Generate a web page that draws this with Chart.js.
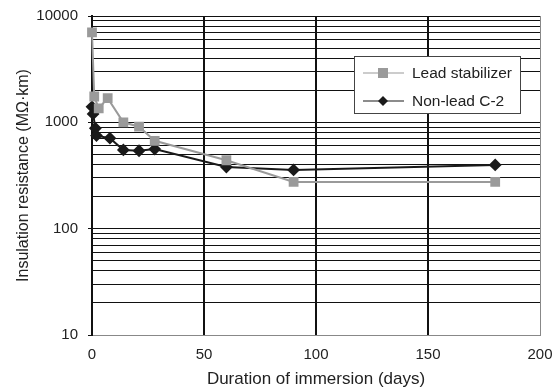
<!DOCTYPE html>
<html>
<head>
<meta charset="utf-8">
<script src="https://cdn.jsdelivr.net/npm/chart.js@4/dist/chart.umd.min.js"></script>
<style>
  html, body { margin: 0; padding: 0; background: #fff; }
  #wrap { width: 557px; height: 390px; }
</style>
</head>
<body>
<div id="wrap"><canvas id="chart" width="557" height="390"></canvas></div>
<script>
// Insulation resistance vs. immersion time
var leadDays = [0, 1, 3, 7, 14, 21, 28, 60, 90, 180];
var leadValues = [7000, 1750, 1350, 1690, 1000, 910, 670, 440, 275, 275];

var nonLeadDays = [0, 0.5, 1.5, 2, 8, 14, 21, 28, 60, 90, 180];
var nonLeadValues = [1400, 1200, 880, 750, 710, 550, 540, 560, 380, 357, 398];

var seriesLabels = ['Lead stabilizer', 'Non-lead C-2'];
var xTicks = [0, 50, 100, 150, 200];
var yDecades = [10, 100, 1000, 10000];

var FONT = '"Liberation Sans", Arial, sans-serif';
var TEXT = '#222';

function toPoints(xs, ys) {
  return xs.map(function (x, i) { return { x: x, y: ys[i] }; });
}

// custom boxed legend with line + marker samples
var boxLegend = {
  id: 'boxLegend',
  afterDraw: function (chart) {
    var ctx = chart.ctx;
    var L = 354, T = 56, W = 166, H = 57;
    ctx.save();
    ctx.fillStyle = '#fff';
    ctx.fillRect(L, T, W, H);
    ctx.strokeStyle = '#444';
    ctx.lineWidth = 1;
    ctx.strokeRect(L + 0.5, T + 0.5, W, H);
    chart.data.datasets.forEach(function (ds, i) {
      var y = T + 17 + i * 28;
      ctx.strokeStyle = ds.borderColor;
      ctx.lineWidth = 1.2;
      ctx.beginPath();
      ctx.moveTo(L + 9, y);
      ctx.lineTo(L + 50, y);
      ctx.stroke();
      ctx.fillStyle = ds.pointBackgroundColor;
      var cx = L + 29;
      if (ds.pointStyle === 'rect') {
        ctx.fillRect(cx - 5, y - 5, 10, 10);
      } else {
        ctx.beginPath();
        ctx.moveTo(cx, y - 5);
        ctx.lineTo(cx + 5, y);
        ctx.lineTo(cx, y + 5);
        ctx.lineTo(cx - 5, y);
        ctx.closePath();
        ctx.fill();
      }
      ctx.fillStyle = TEXT;
      ctx.font = '15.5px ' + FONT;
      ctx.textBaseline = 'middle';
      ctx.fillText(ds.label, L + 58, y + 1);
    });
    ctx.restore();
  }
};

new Chart(document.getElementById('chart'), {
  type: 'line',
  data: {
    datasets: [{
      label: seriesLabels[0],
      data: toPoints(leadDays, leadValues),
      borderColor: '#9a9a9a',
      backgroundColor: '#9a9a9a',
      pointBackgroundColor: '#9a9a9a',
      pointBorderColor: '#9a9a9a',
      pointStyle: 'rect',
      pointRadius: 5.5,
      borderWidth: 2,
      tension: 0,
      clip: false
    }, {
      label: seriesLabels[1],
      data: toPoints(nonLeadDays, nonLeadValues),
      borderColor: '#1a1a1a',
      backgroundColor: '#1a1a1a',
      pointBackgroundColor: '#1a1a1a',
      pointBorderColor: '#1a1a1a',
      pointStyle: 'rectRot',
      pointRadius: 5,
      borderWidth: 2,
      tension: 0,
      clip: false
    }]
  },
  options: {
    responsive: false,
    animation: false,
    layout: { padding: { left: 0, right: 17, top: 16, bottom: 0 } },
    plugins: {
      legend: { display: false },
      tooltip: { enabled: false }
    },
    scales: {
      x: {
        type: 'linear',
        min: 0,
        max: 200,
        afterBuildTicks: function (axis) {
          axis.ticks = xTicks.map(function (v) { return { value: v }; });
        },
        afterFit: function (axis) {
          axis.height = 55;
          axis.paddingLeft = 0;
          axis.paddingRight = 0;
        },
        ticks: {
          color: TEXT,
          font: { family: FONT, size: 15 },
          padding: 11,
          maxRotation: 0
        },
        grid: {
          drawTicks: false,
          color: function (c) { return c.tick && c.tick.value === 200 ? '#888' : '#111'; },
          lineWidth: function (c) { return c.tick && (c.tick.value === 0 || c.tick.value === 200) ? 1 : 2; }
        },
        border: { color: '#888', width: 1 },
        title: {
          display: true,
          text: 'Duration of immersion (days)',
          color: TEXT,
          font: { family: FONT, size: 17 },
          padding: { top: 5, bottom: 0 }
        }
      },
      y: {
        type: 'logarithmic',
        min: 10,
        max: 10000,
        afterBuildTicks: function (axis) {
          var t = [];
          for (var d = 10; d < 10000; d *= 10) {
            for (var m = 1; m < 10; m++) t.push({ value: m * d, major: m === 1 });
          }
          t.push({ value: 10000, major: true });
          axis.ticks = t;
        },
        afterFit: function (axis) {
          axis.width = 92;
          axis.paddingTop = 0;
          axis.paddingBottom = 0;
        },
        ticks: {
          color: TEXT,
          font: { family: FONT, size: 15 },
          padding: 10,
          autoSkip: false,
          callback: function (v) { return yDecades.indexOf(v) >= 0 ? String(v) : ''; }
        },
        grid: {
          color: '#111',
          lineWidth: 1,
          tickLength: 4,
          tickColor: function (c) { return c.tick && yDecades.indexOf(c.tick.value) >= 0 ? '#111' : 'rgba(0,0,0,0)'; }
        },
        border: { color: '#111', width: 2 },
        title: {
          display: true,
          text: 'Insulation resistance (MΩ·km)',
          color: TEXT,
          font: { family: FONT, size: 16 },
          padding: { top: 14, bottom: 0 }
        }
      }
    }
  },
  plugins: [boxLegend]
});
</script>
</body>
</html>
